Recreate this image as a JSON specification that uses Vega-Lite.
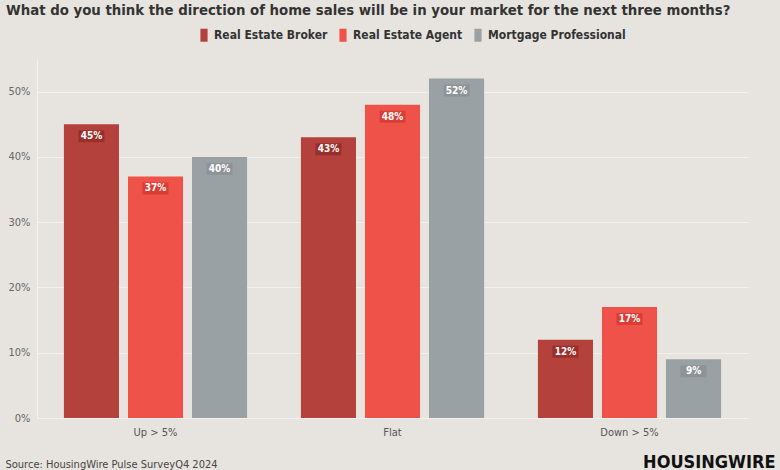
{
  "$schema": "https://vega.github.io/schema/vega-lite/v6.json",
  "width": 711,
  "height": 359,
  "autosize": {"type": "none"},
  "padding": {"left": 37, "top": 59, "right": 32, "bottom": 52},
  "background": "#e7e4df",
  "config": {
    "font": "DejaVu Sans Condensed",
    "view": {"stroke": null},
    "axis": {"labelFont": "DejaVu Sans Condensed", "titleFont": "DejaVu Sans Condensed"},
    "legend": {"labelFont": "DejaVu Sans Condensed"},
    "text": {"font": "DejaVu Sans Condensed"}
  },
  "title": {
    "text": "What do you think the direction of home sales will be in your market for the next three months?",
    "anchor": "start",
    "frame": "group",
    "dx": -31,
    "offset": 10,
    "fontSize": 14.8,
    "fontWeight": "bold",
    "color": "#333333",
    "font": "DejaVu Sans Condensed"
  },
  "layer": [
    {
      "data": {
        "values": [
          {"category": "Up > 5%", "group": "Real Estate Broker", "value": 0.45},
          {"category": "Up > 5%", "group": "Real Estate Agent", "value": 0.37},
          {"category": "Up > 5%", "group": "Mortgage Professional", "value": 0.40},
          {"category": "Flat", "group": "Real Estate Broker", "value": 0.43},
          {"category": "Flat", "group": "Real Estate Agent", "value": 0.48},
          {"category": "Flat", "group": "Mortgage Professional", "value": 0.52},
          {"category": "Down > 5%", "group": "Real Estate Broker", "value": 0.12},
          {"category": "Down > 5%", "group": "Real Estate Agent", "value": 0.17},
          {"category": "Down > 5%", "group": "Mortgage Professional", "value": 0.09}
        ]
      },
      "encoding": {
        "x": {
          "field": "category",
          "type": "nominal",
          "sort": ["Up > 5%", "Flat", "Down > 5%"],
          "scale": {"paddingInner": 0, "paddingOuter": 0},
          "axis": {
            "labelAngle": 0,
            "labelFontSize": 11,
            "labelColor": "#555555",
            "labelPadding": 8,
            "ticks": false,
            "domain": false,
            "title": "Source: HousingWire Pulse SurveyQ4 2024",
            "titleAnchor": "start",
            "titleAlign": "left",
            "titleX": -32,
            "titleY": 49,
            "titleBaseline": "alphabetic",
            "titleFontSize": 11,
            "titleFontWeight": "normal",
            "titleColor": "#444444"
          }
        },
        "xOffset": {
          "field": "group",
          "type": "nominal",
          "sort": ["Real Estate Broker", "Real Estate Agent", "Mortgage Professional"],
          "scale": {"paddingInner": 0.14, "paddingOuter": 0.42}
        },
        "y": {
          "field": "value",
          "type": "quantitative",
          "scale": {"domain": [0, 0.55], "nice": false},
          "axis": {
            "format": ".0%",
            "values": [0, 0.1, 0.2, 0.3, 0.4, 0.5],
            "title": null,
            "labelFontSize": 11,
            "labelColor": "#666666",
            "labelPadding": 7,
            "ticks": false,
            "domain": true,
            "domainColor": "#f3f1ee",
            "gridColor": "#f3f1ee",
            "gridWidth": 1
          }
        }
      },
      "layer": [
        {
          "mark": {"type": "bar"},
          "encoding": {
            "color": {
              "field": "group",
              "type": "nominal",
              "sort": ["Real Estate Broker", "Real Estate Agent", "Mortgage Professional"],
              "scale": {
                "domain": ["Real Estate Broker", "Real Estate Agent", "Mortgage Professional"],
                "range": ["#b4413c", "#ee5249", "#9aa1a4"]
              },
              "legend": {
                "orient": "none",
                "legendX": 160,
                "legendY": -31,
                "direction": "horizontal",
                "title": null,
                "symbolType": "M-0.55,-1 H0.55 V1 H-0.55 Z",
                "symbolSize": 170,
                "symbolStrokeWidth": 0,
                "symbolOpacity": 1,
                "labelFontSize": 12,
                "labelFontWeight": "bold",
                "labelColor": "#333333",
                "labelOffset": 3,
                "columnPadding": 8
              }
            }
          }
        },
        {
          "mark": {"type": "tick", "orient": "horizontal", "thickness": 12, "size": 26, "yOffset": 12, "opacity": 1},
          "encoding": {
            "fill": {
              "field": "group",
              "type": "nominal",
              "scale": {
                "domain": ["Real Estate Broker", "Real Estate Agent", "Mortgage Professional"],
                "range": ["#9a2e2b", "#d83d36", "#8d9497"]
              },
              "legend": null
            }
          }
        },
        {
          "mark": {"type": "text", "color": "white", "fontWeight": "bold", "fontSize": 10, "yOffset": 12, "baseline": "middle"},
          "encoding": {
            "text": {"field": "value", "type": "quantitative", "format": ".0%"}
          }
        }
      ]
    },
    {
      "data": {"values": [{"k": "logo"}]},
      "mark": {"type": "text", "text": ""},
      "encoding": {
        "x": {
          "field": "k",
          "type": "nominal",
          "axis": {
            "orient": "top",
            "labels": false,
            "ticks": false,
            "domain": false,
            "grid": false,
            "title": "HOUSINGWIRE",
            "titleAnchor": "end",
            "titleAlign": "right",
            "titleX": 738,
            "titleY": 408,
            "titleBaseline": "alphabetic",
            "titleFontSize": 18,
            "titleFontWeight": "bold",
            "titleColor": "#111111"
          }
        }
      }
    }
  ],
  "resolve": {"scale": {"x": "independent"}, "axis": {"x": "independent"}}
}
